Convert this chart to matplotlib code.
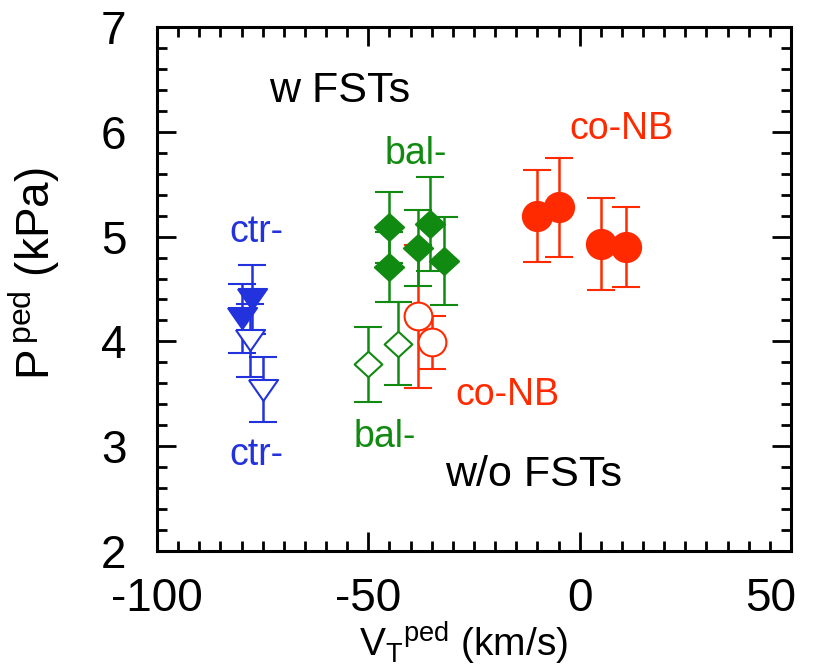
import matplotlib
matplotlib.use("Agg")
import matplotlib.pyplot as plt
from matplotlib.ticker import MultipleLocator
from matplotlib.transforms import ScaledTranslation

plt.rcParams['font.family'] = ['Liberation Sans', 'DejaVu Sans']
plt.rcParams['mathtext.default'] = 'regular'
plt.rcParams['axes.unicode_minus'] = False

# pedestal rotation (km/s), pressure (kPa) and error bars for each beam case
ctr_w_x = [-77.5, -79.9]
ctr_w_y = [4.40, 4.22]
ctr_w_err = [0.33, 0.33]
ctr_wo_x = [-78.0, -74.9]
ctr_wo_y = [4.01, 3.54]
ctr_wo_err = [0.35, 0.31]

bal_w_x = [-45.1, -45.1, -35.4, -38.3, -32.1]
bal_w_y = [5.09, 4.71, 5.12, 4.89, 4.77]
bal_w_err = [0.34, 0.33, 0.45, 0.36, 0.42]
bal_wo_x = [-50.1, -43.0]
bal_wo_y = [3.78, 3.98]
bal_wo_err = [0.36, 0.40]

co_w_x = [-10.1, -4.9, 5.0, 11.0]
co_w_y = [5.20, 5.28, 4.93, 4.90]
co_w_err = [0.44, 0.47, 0.44, 0.38]
co_wo_x = [-38.3, -34.9]
co_wo_y = [4.24, 3.99]
co_wo_err = [0.68, 0.25]

blue = '#2233dd'
green = '#118a11'
red = '#ff2a00'

tri_down = [(-1, 0.72), (1, 0.72), (0, -0.72), (-1, 0.72)]
diamond = [(0, 0.92), (1, 0), (0, -0.92), (-1, 0), (0, 0.92)]

fig = plt.figure(figsize=(8.16, 6.71), dpi=100)
ax = fig.add_axes([0.1924, 0.1788, 0.7770, 0.7810])

eb = dict(linestyle='none', capsize=10, elinewidth=1.8, capthick=1.8, markeredgewidth=1.5)

# red co-NB
ax.errorbar(co_wo_x, co_wo_y, yerr=co_wo_err, marker='o', ms=20, color=red,
            mfc='white', mec=red, **eb)
ax.errorbar(co_w_x, co_w_y, yerr=co_w_err, marker='o', ms=21, color=red, **eb)
# green bal-
ax.errorbar(bal_wo_x, bal_wo_y, yerr=bal_wo_err, marker=diamond, ms=20, color=green,
            mfc='white', mec=green, **eb)
ax.errorbar(bal_w_x, bal_w_y, yerr=bal_w_err, marker=diamond, ms=21, color=green, **eb)
# blue ctr-
ax.errorbar(ctr_wo_x, ctr_wo_y, yerr=ctr_wo_err, marker=tri_down, ms=21, color=blue,
            mfc='white', mec=blue, **eb)
ax.errorbar(ctr_w_x, ctr_w_y, yerr=ctr_w_err, marker=tri_down, ms=21, color=blue, **eb)

big = 31
small = 27
ax.text(-56.7, 6.39, 'w FSTs', color='black', fontsize=big, ha='center', va='center')
ax.text(-11.0, 2.73, 'w/o FSTs', color='black', fontsize=big, ha='center', va='center')
ax.text(-76.6, 5.04, 'ctr-', color=blue, fontsize=small, ha='center', va='center')
ax.text(-76.6, 2.92, 'ctr-', color=blue, fontsize=small, ha='center', va='center')
ax.text(-38.7, 5.79, 'bal-', color=green, fontsize=small, ha='center', va='center')
ax.text(-46.1, 3.09, 'bal-', color=green, fontsize=small, ha='center', va='center')
ax.text(9.8, 6.03, 'co-NB', color=red, fontsize=small, ha='center', va='center')
ax.text(-17.0, 3.49, 'co-NB', color=red, fontsize=small, ha='center', va='center')

ax.set_xlim(-100, 50)
ax.set_ylim(2, 7)
ax.xaxis.set_major_locator(MultipleLocator(50))
ax.xaxis.set_minor_locator(MultipleLocator(5))
ax.yaxis.set_major_locator(MultipleLocator(1))
ax.yaxis.set_minor_locator(MultipleLocator(0.2))
ax.tick_params(which='both', direction='in', top=True, right=True, width=2)
ax.tick_params(which='major', length=14, labelsize=33)
ax.tick_params(axis='x', which='major', pad=19)
ax.tick_params(axis='y', which='major', pad=22)
ax.tick_params(which='minor', length=7)
for s in ax.spines.values():
    s.set_linewidth(2.2)

ax.set_xlabel(r'$V_T{}^{ped}$ (km/s)', fontsize=28)
ax.set_ylabel(r'P$^{\,ped}$ (kPa)', fontsize=33)
ax.xaxis.set_label_coords(0.484, -0.132)
ax.yaxis.set_label_coords(-0.150, 0.53)

# pull the "50" label in so it stays inside the figure
fig.canvas.draw()
for tick in ax.xaxis.get_major_ticks():
    if abs(tick.get_loc() - 50) < 1e-6:
        lbl = tick.label1
        lbl.set_transform(lbl.get_transform() + ScaledTranslation(-0.2, 0, fig.dpi_scale_trans))

fig.savefig('out.png', dpi=100)
